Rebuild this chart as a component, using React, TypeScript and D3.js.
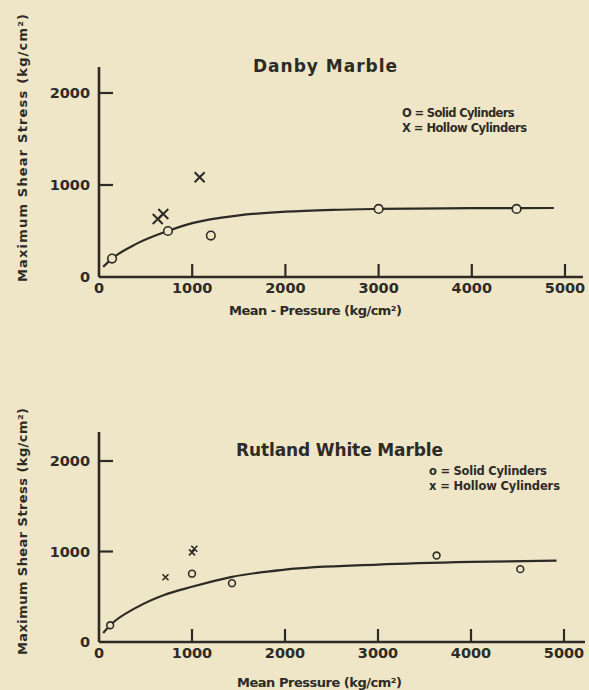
import * as d3 from 'd3'

// Danby Marble (pressure, stress in kg/cm²)
const danbySolidP = [140, 740, 1200, 3000, 4480]
const danbySolidS = [200, 500, 450, 740, 740]
const danbyHollowP = [630, 690, 1080]
const danbyHollowS = [630, 685, 1085]
const danbyCurveP = [45, 140, 400, 740, 1000, 1500, 2000, 2500, 3000, 4000, 4880]
const danbyCurveS = [110, 200, 360, 500, 585, 670, 710, 730, 740, 748, 750]

// Rutland White Marble
const rutlandSolidP = [120, 1000, 1430, 3630, 4530]
const rutlandSolidS = [185, 755, 650, 955, 805]
const rutlandHollowP = [715, 1000, 1025]
const rutlandHollowS = [715, 990, 1030]
const rutlandCurveP = [45, 120, 400, 700, 1000, 1430, 2000, 3000, 4000, 4920]
const rutlandCurveS = [100, 185, 380, 520, 610, 720, 800, 855, 885, 900]

const xTicks = [0, 1000, 2000, 3000, 4000, 5000]
const yTicks = [0, 1000, 2000]

const BG = '#efe6c8'
const INK = '#2e2b26'
const FONT = '"DejaVu Sans", "Liberation Sans", sans-serif'

type PanelProps = {
  title: string
  titleX: number
  titleY: number
  titleLen: number
  xTitle: string
  xTitleX: number
  xTitleY: number
  xTitleLen: number
  yTitleBottom: number
  yTitleLen: number
  x0: number
  x5000: number
  xEnd: number
  y0: number
  y2000: number
  yTop: number
  legendX: number
  legendY: number
  legendLen: number
  legend: [string, string]
  solidP: number[]
  solidS: number[]
  hollowP: number[]
  hollowS: number[]
  curveP: number[]
  curveS: number[]
  r: number
  cross: number
  crossW: number
}

function Panel(p: PanelProps) {
  const x = d3.scaleLinear().domain([0, 5000]).range([p.x0, p.x5000])
  const y = d3.scaleLinear().domain([0, 2000]).range([p.y0, p.y2000])

  const curve = p.curveP.map((v, i) => [v, p.curveS[i]] as [number, number])
  const line = d3
    .line<[number, number]>()
    .x((d) => x(d[0]))
    .y((d) => y(d[1]))
    .curve(d3.curveMonotoneX)

  return (
    <g fill={INK} fontFamily={FONT} fontWeight="bold">
      {/* axes */}
      <line x1={p.x0} x2={p.xEnd} y1={p.y0} y2={p.y0} stroke={INK} strokeWidth={2.6} />
      <line x1={p.x0} x2={p.x0} y1={p.y0} y2={p.yTop} stroke={INK} strokeWidth={2.6} />
      {xTicks.slice(1).map((t) => (
        <line key={t} x1={x(t)} x2={x(t)} y1={p.y0} y2={p.y0 - 13} stroke={INK} strokeWidth={2.2} />
      ))}
      {yTicks.slice(1).map((t) => (
        <line key={t} x1={p.x0} x2={p.x0 + 14} y1={y(t)} y2={y(t)} stroke={INK} strokeWidth={2.2} />
      ))}
      {xTicks.map((t) => (
        <text key={t} x={x(t)} y={p.y0 + 11} fontSize={14.5} textAnchor="middle" dominantBaseline="central">
          {t}
        </text>
      ))}
      {yTicks.map((t) => (
        <text key={t} x={p.x0 - 9} y={y(t)} fontSize={14.5} textAnchor="end" dominantBaseline="central">
          {t}
        </text>
      ))}

      {/* titles */}
      <text x={p.titleX} y={p.titleY} fontSize={17} dominantBaseline="central" textLength={p.titleLen} lengthAdjust="spacing">
        {p.title}
      </text>
      <text x={p.xTitleX} y={p.xTitleY} fontSize={13} dominantBaseline="central" textLength={p.xTitleLen} lengthAdjust="spacing">
        {p.xTitle}
      </text>
      <text
        transform={`translate(22,${p.yTitleBottom}) rotate(-90)`}
        fontSize={13}
        dominantBaseline="central"
        textLength={p.yTitleLen}
        lengthAdjust="spacing"
      >
        Maximum Shear Stress (kg/cm²)
      </text>

      {/* legend */}
      <text x={p.legendX} y={p.legendY} fontSize={11.5} dominantBaseline="central" textLength={p.legendLen * 0.9} lengthAdjust="spacing">
        {p.legend[0]}
      </text>
      <text x={p.legendX} y={p.legendY + 15} fontSize={11.5} dominantBaseline="central" textLength={p.legendLen} lengthAdjust="spacing">
        {p.legend[1]}
      </text>

      {/* fitted curve */}
      <path d={line(curve) ?? ''} fill="none" stroke={INK} strokeWidth={2.2} />

      {/* data */}
      {p.solidP.map((v, i) => (
        <circle key={i} cx={x(v)} cy={y(p.solidS[i])} r={p.r} fill={BG} stroke={INK} strokeWidth={1.6} />
      ))}
      {p.hollowP.map((v, i) => {
        const cx = x(v)
        const cy = y(p.hollowS[i])
        const c = p.cross
        return (
          <path
            key={i}
            d={`M${cx - c},${cy - c}L${cx + c},${cy + c}M${cx - c},${cy + c}L${cx + c},${cy - c}`}
            stroke={INK}
            strokeWidth={p.crossW}
            fill="none"
          />
        )
      })}
    </g>
  )
}

export default function App() {
  return (
    <svg width={589} height={690} style={{ position: 'absolute', left: 0, top: 0, background: BG }}>
      <rect width={589} height={690} fill={BG} />
      <Panel
        title="Danby   Marble"
        titleX={253}
        titleY={66}
        titleLen={144}
        xTitle="Mean - Pressure   (kg/cm²)"
        xTitleX={229}
        xTitleY={310}
        xTitleLen={173}
        yTitleBottom={282}
        yTitleLen={268}
        x0={99}
        x5000={565}
        xEnd={583}
        y0={277}
        y2000={93}
        yTop={67}
        legendX={402}
        legendY={113}
        legendLen={125}
        legend={['O = Solid  Cylinders', 'X = Hollow Cylinders']}
        solidP={danbySolidP}
        solidS={danbySolidS}
        hollowP={danbyHollowP}
        hollowS={danbyHollowS}
        curveP={danbyCurveP}
        curveS={danbyCurveS}
        r={4.3}
        cross={5}
        crossW={2}
      />
      <Panel
        title="Rutland   White   Marble"
        titleX={236}
        titleY={450}
        titleLen={207}
        xTitle="Mean   Pressure   (kg/cm²)"
        xTitleX={237}
        xTitleY={682}
        xTitleLen={165}
        yTitleBottom={655}
        yTitleLen={247}
        x0={99}
        x5000={564}
        xEnd={585}
        y0={642}
        y2000={461}
        yTop={432}
        legendX={429}
        legendY={471}
        legendLen={131}
        legend={['o = Solid  Cylinders', 'x = Hollow Cylinders']}
        solidP={rutlandSolidP}
        solidS={rutlandSolidS}
        hollowP={rutlandHollowP}
        hollowS={rutlandHollowS}
        curveP={rutlandCurveP}
        curveS={rutlandCurveS}
        r={3.4}
        cross={3}
        crossW={1.6}
      />
    </svg>
  )
}
